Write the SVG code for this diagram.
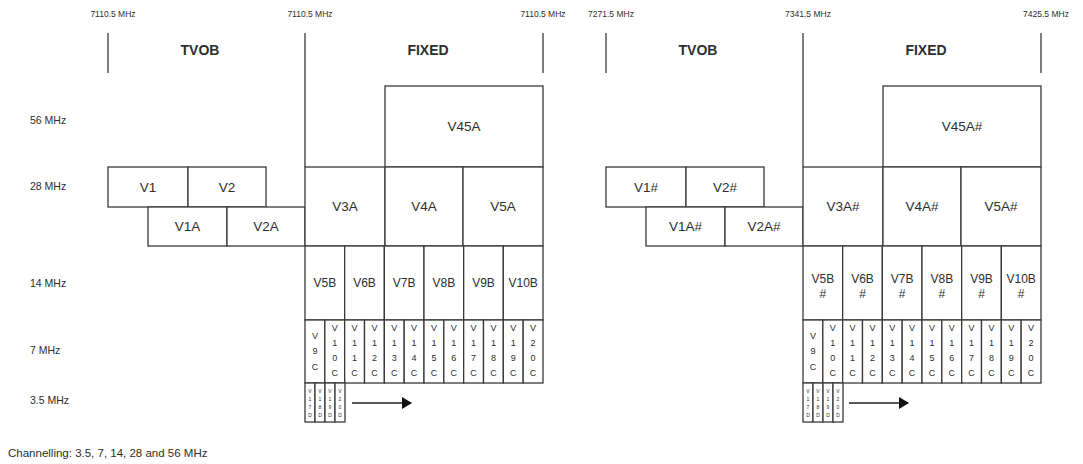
<svg xmlns="http://www.w3.org/2000/svg" width="1083" height="464" viewBox="0 0 1083 464">
<style>
  text { font-family: "Liberation Sans", Arial, sans-serif; fill: #2e2e2e; }
  .freq { font-size: 8.5px; text-anchor: middle; }
  .sec { font-size: 14px; font-weight: bold; text-anchor: middle; }
  .row { font-size: 10.5px; }
  .lbl { font-size: 13.5px; text-anchor: middle; }
  .lb { font-size: 12px; text-anchor: middle; }
  .vc { font-size: 9px; text-anchor: middle; }
  .vd { font-size: 5px; text-anchor: middle; }
  .note { font-size: 11.5px; }
  rect.box { fill: #ffffff; stroke: #3a3a3a; stroke-width: 1.3; }
  line.tick { stroke: #3a3a3a; stroke-width: 1.3; }
  line.arr { stroke: #222; stroke-width: 1.5; }
</style>
<defs>
  <marker id="ah" viewBox="0 0 10 10" refX="9" refY="5" markerWidth="10" markerHeight="12" markerUnits="userSpaceOnUse" orient="auto" preserveAspectRatio="none">
    <path d="M0,0 L10,5 L0,10 z" fill="#111"/>
  </marker>
</defs>
<rect width="1083" height="464" fill="#ffffff"/>

<!-- row labels -->
<g id="row-labels">
  <text class="row" x="30" y="124">56 MHz</text>
  <text class="row" x="30" y="190">28 MHz</text>
  <text class="row" x="30" y="287">14 MHz</text>
  <text class="row" x="30" y="354">7 MHz</text>
  <text class="row" x="30" y="404">3.5 MHz</text>
  <text class="note" x="8" y="457">Channelling: 3.5, 7, 14, 28 and 56 MHz</text>
</g>

<!-- LEFT DIAGRAM -->
<g id="left-header">
  <text class="freq" x="113" y="17">7110.5 MHz</text>
  <text class="freq" x="310" y="17">7110.5 MHz</text>
  <text class="freq" x="543" y="17">7110.5 MHz</text>
  <text class="sec" x="200" y="55">TVOB</text>
  <text class="sec" x="428" y="55">FIXED</text>
</g>

<g id="left-56">
  <g id="V45A"><rect class="box" x="385" y="86" width="158" height="81"/><text class="lbl" x="464" y="131">V45A</text></g>
</g>
<g id="left-28">
  <g id="V1"><rect class="box" x="108" y="167" width="80" height="40"/><text class="lbl" x="148" y="191.5">V1</text></g>
  <g id="V2"><rect class="box" x="188" y="167" width="78" height="40"/><text class="lbl" x="227" y="191.5">V2</text></g>
  <g id="V1A"><rect class="box" x="148" y="207" width="79" height="39"/><text class="lbl" x="187.5" y="231">V1A</text></g>
  <g id="V2A"><rect class="box" x="227" y="207" width="78" height="39"/><text class="lbl" x="266" y="231">V2A</text></g>
  <g id="V3A"><rect class="box" x="305" y="167" width="80" height="79"/><text class="lbl" x="345" y="211">V3A</text></g>
  <g id="V4A"><rect class="box" x="385" y="167" width="78" height="79"/><text class="lbl" x="424" y="211">V4A</text></g>
  <g id="V5A"><rect class="box" x="463" y="167" width="80" height="79"/><text class="lbl" x="503" y="211">V5A</text></g>
</g>
<g id="left-14">
  <g id="V5B"><rect class="box" x="305" y="246" width="39.67" height="74"/><text class="lb" x="324.8" y="287">V5B</text></g>
  <g id="V6B"><rect class="box" x="344.67" y="246" width="39.67" height="74"/><text class="lb" x="364.5" y="287">V6B</text></g>
  <g id="V7B"><rect class="box" x="384.33" y="246" width="39.67" height="74"/><text class="lb" x="404.2" y="287">V7B</text></g>
  <g id="V8B"><rect class="box" x="424" y="246" width="39.67" height="74"/><text class="lb" x="443.8" y="287">V8B</text></g>
  <g id="V9B"><rect class="box" x="463.67" y="246" width="39.67" height="74"/><text class="lb" x="483.5" y="287">V9B</text></g>
  <g id="V10B"><rect class="box" x="503.33" y="246" width="39.67" height="74"/><text class="lb" x="523.2" y="287">V10B</text></g>
</g>
<g id="left-7">
  <g id="V9C"><rect class="box" x="305" y="320" width="19.83" height="63"/><text class="vc"><tspan x="314.9" y="339">V</tspan><tspan x="314.9" y="354">9</tspan><tspan x="314.9" y="370">C</tspan></text></g>
  <g id="V10C"><rect class="box" x="324.83" y="320" width="19.83" height="63"/><text class="vc"><tspan x="334.75" y="331">V</tspan><tspan x="334.75" y="346">1</tspan><tspan x="334.75" y="361">0</tspan><tspan x="334.75" y="376">C</tspan></text></g>
  <g id="V11C"><rect class="box" x="344.67" y="320" width="19.83" height="63"/><text class="vc"><tspan x="354.6" y="331">V</tspan><tspan x="354.6" y="346">1</tspan><tspan x="354.6" y="361">1</tspan><tspan x="354.6" y="376">C</tspan></text></g>
  <g id="V12C"><rect class="box" x="364.5" y="320" width="19.83" height="63"/><text class="vc"><tspan x="374.4" y="331">V</tspan><tspan x="374.4" y="346">1</tspan><tspan x="374.4" y="361">2</tspan><tspan x="374.4" y="376">C</tspan></text></g>
  <g id="V13C"><rect class="box" x="384.33" y="320" width="19.83" height="63"/><text class="vc"><tspan x="394.25" y="331">V</tspan><tspan x="394.25" y="346">1</tspan><tspan x="394.25" y="361">3</tspan><tspan x="394.25" y="376">C</tspan></text></g>
  <g id="V14C"><rect class="box" x="404.17" y="320" width="19.83" height="63"/><text class="vc"><tspan x="414.1" y="331">V</tspan><tspan x="414.1" y="346">1</tspan><tspan x="414.1" y="361">4</tspan><tspan x="414.1" y="376">C</tspan></text></g>
  <g id="V15C"><rect class="box" x="424" y="320" width="19.83" height="63"/><text class="vc"><tspan x="433.9" y="331">V</tspan><tspan x="433.9" y="346">1</tspan><tspan x="433.9" y="361">5</tspan><tspan x="433.9" y="376">C</tspan></text></g>
  <g id="V16C"><rect class="box" x="443.83" y="320" width="19.83" height="63"/><text class="vc"><tspan x="453.75" y="331">V</tspan><tspan x="453.75" y="346">1</tspan><tspan x="453.75" y="361">6</tspan><tspan x="453.75" y="376">C</tspan></text></g>
  <g id="V17C"><rect class="box" x="463.67" y="320" width="19.83" height="63"/><text class="vc"><tspan x="473.6" y="331">V</tspan><tspan x="473.6" y="346">1</tspan><tspan x="473.6" y="361">7</tspan><tspan x="473.6" y="376">C</tspan></text></g>
  <g id="V18C"><rect class="box" x="483.5" y="320" width="19.83" height="63"/><text class="vc"><tspan x="493.4" y="331">V</tspan><tspan x="493.4" y="346">1</tspan><tspan x="493.4" y="361">8</tspan><tspan x="493.4" y="376">C</tspan></text></g>
  <g id="V19C"><rect class="box" x="503.33" y="320" width="19.83" height="63"/><text class="vc"><tspan x="513.25" y="331">V</tspan><tspan x="513.25" y="346">1</tspan><tspan x="513.25" y="361">9</tspan><tspan x="513.25" y="376">C</tspan></text></g>
  <g id="V20C"><rect class="box" x="523.17" y="320" width="19.83" height="63"/><text class="vc"><tspan x="533.1" y="331">V</tspan><tspan x="533.1" y="346">2</tspan><tspan x="533.1" y="361">0</tspan><tspan x="533.1" y="376">C</tspan></text></g>
</g>
<g id="left-3_5">
  <g id="V17D"><rect class="box" x="305" y="383" width="10" height="39"/><text class="vd"><tspan x="310" y="393">V</tspan><tspan x="310" y="401">1</tspan><tspan x="310" y="409">7</tspan><tspan x="310" y="417">D</tspan></text></g>
  <g id="V18D"><rect class="box" x="315" y="383" width="10" height="39"/><text class="vd"><tspan x="320" y="393">V</tspan><tspan x="320" y="401">1</tspan><tspan x="320" y="409">8</tspan><tspan x="320" y="417">D</tspan></text></g>
  <g id="V19D"><rect class="box" x="325" y="383" width="10" height="39"/><text class="vd"><tspan x="330" y="393">V</tspan><tspan x="330" y="401">1</tspan><tspan x="330" y="409">9</tspan><tspan x="330" y="417">D</tspan></text></g>
  <g id="V20D"><rect class="box" x="335" y="383" width="10" height="39"/><text class="vd"><tspan x="340" y="393">V</tspan><tspan x="340" y="401">2</tspan><tspan x="340" y="409">0</tspan><tspan x="340" y="417">D</tspan></text></g>
</g>

<!-- RIGHT DIAGRAM -->
<g id="right-header">
  <text class="freq" x="611" y="17">7271.5 MHz</text>
  <text class="freq" x="808" y="17">7341.5 MHz</text>
  <text class="freq" x="1046" y="17">7425.5 MHz</text>
  <text class="sec" x="698" y="55">TVOB</text>
  <text class="sec" x="926" y="55">FIXED</text>
</g>
<g id="right-56">
  <g id="V45Ah"><rect class="box" x="883" y="86" width="158" height="81"/><text class="lbl" x="962" y="131">V45A#</text></g>
</g>
<g id="right-28">
  <g id="V1h"><rect class="box" x="606" y="167" width="80" height="40"/><text class="lbl" x="646" y="191.5">V1#</text></g>
  <g id="V2h"><rect class="box" x="686" y="167" width="78" height="40"/><text class="lbl" x="725" y="191.5">V2#</text></g>
  <g id="V1Ah"><rect class="box" x="646" y="207" width="79" height="39"/><text class="lbl" x="685.5" y="231">V1A#</text></g>
  <g id="V2Ah"><rect class="box" x="725" y="207" width="78" height="39"/><text class="lbl" x="764" y="231">V2A#</text></g>
  <g id="V3Ah"><rect class="box" x="803" y="167" width="80" height="79"/><text class="lbl" x="843" y="211">V3A#</text></g>
  <g id="V4Ah"><rect class="box" x="883" y="167" width="78" height="79"/><text class="lbl" x="922" y="211">V4A#</text></g>
  <g id="V5Ah"><rect class="box" x="961" y="167" width="80" height="79"/><text class="lbl" x="1001" y="211">V5A#</text></g>
</g>
<g id="right-14">
  <g id="V5Bh"><rect class="box" x="803" y="246" width="39.67" height="74"/><text class="lb"><tspan x="822.8" y="283">V5B</tspan><tspan x="822.8" y="298">#</tspan></text></g>
  <g id="V6Bh"><rect class="box" x="842.67" y="246" width="39.67" height="74"/><text class="lb"><tspan x="862.5" y="283">V6B</tspan><tspan x="862.5" y="298">#</tspan></text></g>
  <g id="V7Bh"><rect class="box" x="882.33" y="246" width="39.67" height="74"/><text class="lb"><tspan x="902.2" y="283">V7B</tspan><tspan x="902.2" y="298">#</tspan></text></g>
  <g id="V8Bh"><rect class="box" x="922" y="246" width="39.67" height="74"/><text class="lb"><tspan x="941.8" y="283">V8B</tspan><tspan x="941.8" y="298">#</tspan></text></g>
  <g id="V9Bh"><rect class="box" x="961.67" y="246" width="39.67" height="74"/><text class="lb"><tspan x="981.5" y="283">V9B</tspan><tspan x="981.5" y="298">#</tspan></text></g>
  <g id="V10Bh"><rect class="box" x="1001.33" y="246" width="39.67" height="74"/><text class="lb"><tspan x="1021.2" y="283">V10B</tspan><tspan x="1021.2" y="298">#</tspan></text></g>
</g>
<g id="right-7">
  <g id="V9Ch"><rect class="box" x="803" y="320" width="19.83" height="63"/><text class="vc"><tspan x="812.9" y="339">V</tspan><tspan x="812.9" y="354">9</tspan><tspan x="812.9" y="370">C</tspan></text></g>
  <g id="V10Ch"><rect class="box" x="822.83" y="320" width="19.83" height="63"/><text class="vc"><tspan x="832.75" y="331">V</tspan><tspan x="832.75" y="346">1</tspan><tspan x="832.75" y="361">0</tspan><tspan x="832.75" y="376">C</tspan></text></g>
  <g id="V11Ch"><rect class="box" x="842.67" y="320" width="19.83" height="63"/><text class="vc"><tspan x="852.6" y="331">V</tspan><tspan x="852.6" y="346">1</tspan><tspan x="852.6" y="361">1</tspan><tspan x="852.6" y="376">C</tspan></text></g>
  <g id="V12Ch"><rect class="box" x="862.5" y="320" width="19.83" height="63"/><text class="vc"><tspan x="872.4" y="331">V</tspan><tspan x="872.4" y="346">1</tspan><tspan x="872.4" y="361">2</tspan><tspan x="872.4" y="376">C</tspan></text></g>
  <g id="V13Ch"><rect class="box" x="882.33" y="320" width="19.83" height="63"/><text class="vc"><tspan x="892.25" y="331">V</tspan><tspan x="892.25" y="346">1</tspan><tspan x="892.25" y="361">3</tspan><tspan x="892.25" y="376">C</tspan></text></g>
  <g id="V14Ch"><rect class="box" x="902.17" y="320" width="19.83" height="63"/><text class="vc"><tspan x="912.1" y="331">V</tspan><tspan x="912.1" y="346">1</tspan><tspan x="912.1" y="361">4</tspan><tspan x="912.1" y="376">C</tspan></text></g>
  <g id="V15Ch"><rect class="box" x="922" y="320" width="19.83" height="63"/><text class="vc"><tspan x="931.9" y="331">V</tspan><tspan x="931.9" y="346">1</tspan><tspan x="931.9" y="361">5</tspan><tspan x="931.9" y="376">C</tspan></text></g>
  <g id="V16Ch"><rect class="box" x="941.83" y="320" width="19.83" height="63"/><text class="vc"><tspan x="951.75" y="331">V</tspan><tspan x="951.75" y="346">1</tspan><tspan x="951.75" y="361">6</tspan><tspan x="951.75" y="376">C</tspan></text></g>
  <g id="V17Ch"><rect class="box" x="961.67" y="320" width="19.83" height="63"/><text class="vc"><tspan x="971.6" y="331">V</tspan><tspan x="971.6" y="346">1</tspan><tspan x="971.6" y="361">7</tspan><tspan x="971.6" y="376">C</tspan></text></g>
  <g id="V18Ch"><rect class="box" x="981.5" y="320" width="19.83" height="63"/><text class="vc"><tspan x="991.4" y="331">V</tspan><tspan x="991.4" y="346">1</tspan><tspan x="991.4" y="361">8</tspan><tspan x="991.4" y="376">C</tspan></text></g>
  <g id="V19Ch"><rect class="box" x="1001.33" y="320" width="19.83" height="63"/><text class="vc"><tspan x="1011.25" y="331">V</tspan><tspan x="1011.25" y="346">1</tspan><tspan x="1011.25" y="361">9</tspan><tspan x="1011.25" y="376">C</tspan></text></g>
  <g id="V20Ch"><rect class="box" x="1021.17" y="320" width="19.83" height="63"/><text class="vc"><tspan x="1031.1" y="331">V</tspan><tspan x="1031.1" y="346">2</tspan><tspan x="1031.1" y="361">0</tspan><tspan x="1031.1" y="376">C</tspan></text></g>
</g>
<g id="right-3_5">
  <g id="V17Dh"><rect class="box" x="803" y="383" width="10" height="39"/><text class="vd"><tspan x="808" y="393">V</tspan><tspan x="808" y="401">1</tspan><tspan x="808" y="409">7</tspan><tspan x="808" y="417">D</tspan></text></g>
  <g id="V18Dh"><rect class="box" x="813" y="383" width="10" height="39"/><text class="vd"><tspan x="818" y="393">V</tspan><tspan x="818" y="401">1</tspan><tspan x="818" y="409">8</tspan><tspan x="818" y="417">D</tspan></text></g>
  <g id="V19Dh"><rect class="box" x="823" y="383" width="10" height="39"/><text class="vd"><tspan x="828" y="393">V</tspan><tspan x="828" y="401">1</tspan><tspan x="828" y="409">9</tspan><tspan x="828" y="417">D</tspan></text></g>
  <g id="V20Dh"><rect class="box" x="833" y="383" width="10" height="39"/><text class="vd"><tspan x="838" y="393">V</tspan><tspan x="838" y="401">2</tspan><tspan x="838" y="409">0</tspan><tspan x="838" y="417">D</tspan></text></g>
</g>

<!-- connectors: band ticks and arrows -->
<g id="connectors">
  <line class="tick" x1="108" y1="33" x2="108" y2="73"/>
  <line class="tick" x1="305" y1="33" x2="305" y2="167"/>
  <line class="tick" x1="543" y1="33" x2="543" y2="73"/>
  <line class="tick" x1="606" y1="33" x2="606" y2="73"/>
  <line class="tick" x1="803" y1="33" x2="803" y2="167"/>
  <line class="tick" x1="1041" y1="33" x2="1041" y2="73"/>
  <line class="arr" x1="352" y1="403" x2="411" y2="403" marker-end="url(#ah)"/>
  <line class="arr" x1="849" y1="403" x2="908" y2="403" marker-end="url(#ah)"/>
</g>
</svg>
